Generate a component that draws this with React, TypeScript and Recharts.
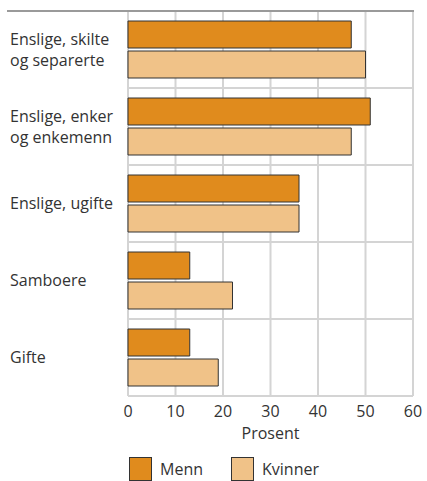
import React from 'react';
import { BarChart, Bar, XAxis, YAxis, CartesianGrid, Legend } from 'recharts';

// Andel i prosent, etter sivilstand og kjønn
const categories = [
  'Enslige, skilte\nog separerte',
  'Enslige, enker\nog enkemenn',
  'Enslige, ugifte',
  'Samboere',
  'Gifte',
];
const menn = [47, 51, 36, 13, 13];
const kvinner = [50, 47, 36, 22, 19];
const xTicks = [0, 10, 20, 30, 40, 50, 60];

const series = [
  { key: 'menn', name: 'Menn', color: '#e08b1d' },
  { key: 'kvinner', name: 'Kvinner', color: '#f0c288' },
];

const data = categories.map((c, i) => ({ group: c, menn: menn[i], kvinner: kvinner[i] }));

const FONT = '"Open Sans", sans-serif';
const TEXT = '#333333';
const GRID = '#d4d4d4';

const CategoryTick = ({ y, payload }: { y?: number; payload?: { value: string } }) => {
  const lines = String(payload?.value ?? '').split('\n');
  const cy = y ?? 0;
  // single line: baseline a bit below centre, two lines: centred as a block
  const first = lines.length === 1 ? cy + 5.5 : cy - 5;
  return (
    <text x={10} y={first} fill={TEXT} fontSize={16} fontFamily={FONT} textAnchor="start">
      {lines.map((l, i) => (
        <tspan key={i} x={10} dy={i === 0 ? 0 : 21}>
          {l}
        </tspan>
      ))}
    </text>
  );
};

const LegendContent = () => (
  <div style={{ display: 'flex', paddingLeft: 121, paddingTop: 10, height: 24, fontFamily: FONT, fontSize: 16, color: TEXT }}>
    {series.map(s => (
      <div key={s.key} style={{ display: 'flex', alignItems: 'center', marginRight: 28 }}>
        <span style={{ width: 23, height: 24, background: s.color, border: '1px solid #333', boxSizing: 'border-box', display: 'inline-block' }} />
        <span style={{ marginLeft: 8 }}>{s.name}</span>
      </div>
    ))}
  </div>
);

export default function App() {
  return (
    <div style={{ position: 'relative', width: 427, height: 481, background: '#fff' }}>
      <style>{`body{margin:0}`}</style>
      <BarChart
        width={427}
        height={481}
        data={data}
        layout="vertical"
        margin={{ top: 11, right: 14, bottom: 0, left: 8 }}
        barSize={27}
        barGap={3}
      >
        <CartesianGrid
          stroke={GRID}
          strokeWidth={2}
          horizontalCoordinatesGenerator={({ offset }: any) =>
            categories.map((_, i) => offset.top + ((i + 1) * offset.height) / categories.length)
          }
        />
        <XAxis
          type="number"
          domain={[0, 60]}
          ticks={xTicks}
          axisLine={false}
          tickLine={false}
          tickMargin={4}
          height={51}
          tick={{ fill: TEXT, fontSize: 16, fontFamily: FONT }}
          label={{ value: 'Prosent', position: 'insideBottom', offset: 8, fill: TEXT, fontSize: 16, fontFamily: FONT }}
        />
        <YAxis
          type="category"
          dataKey="group"
          width={120}
          axisLine={false}
          tickLine={false}
          tick={<CategoryTick />}
        />
        <Legend verticalAlign="bottom" height={34} content={<LegendContent />} />
        {series.map(s => (
          <Bar
            key={s.key}
            dataKey={s.key}
            name={s.name}
            fill={s.color}
            stroke="#333333"
            strokeWidth={1}
            isAnimationActive={false}
          />
        ))}
      </BarChart>
      <div style={{ position: 'absolute', left: 7, top: 10, width: 407, height: 2, background: '#9a9a9a' }} />
    </div>
  );
}
